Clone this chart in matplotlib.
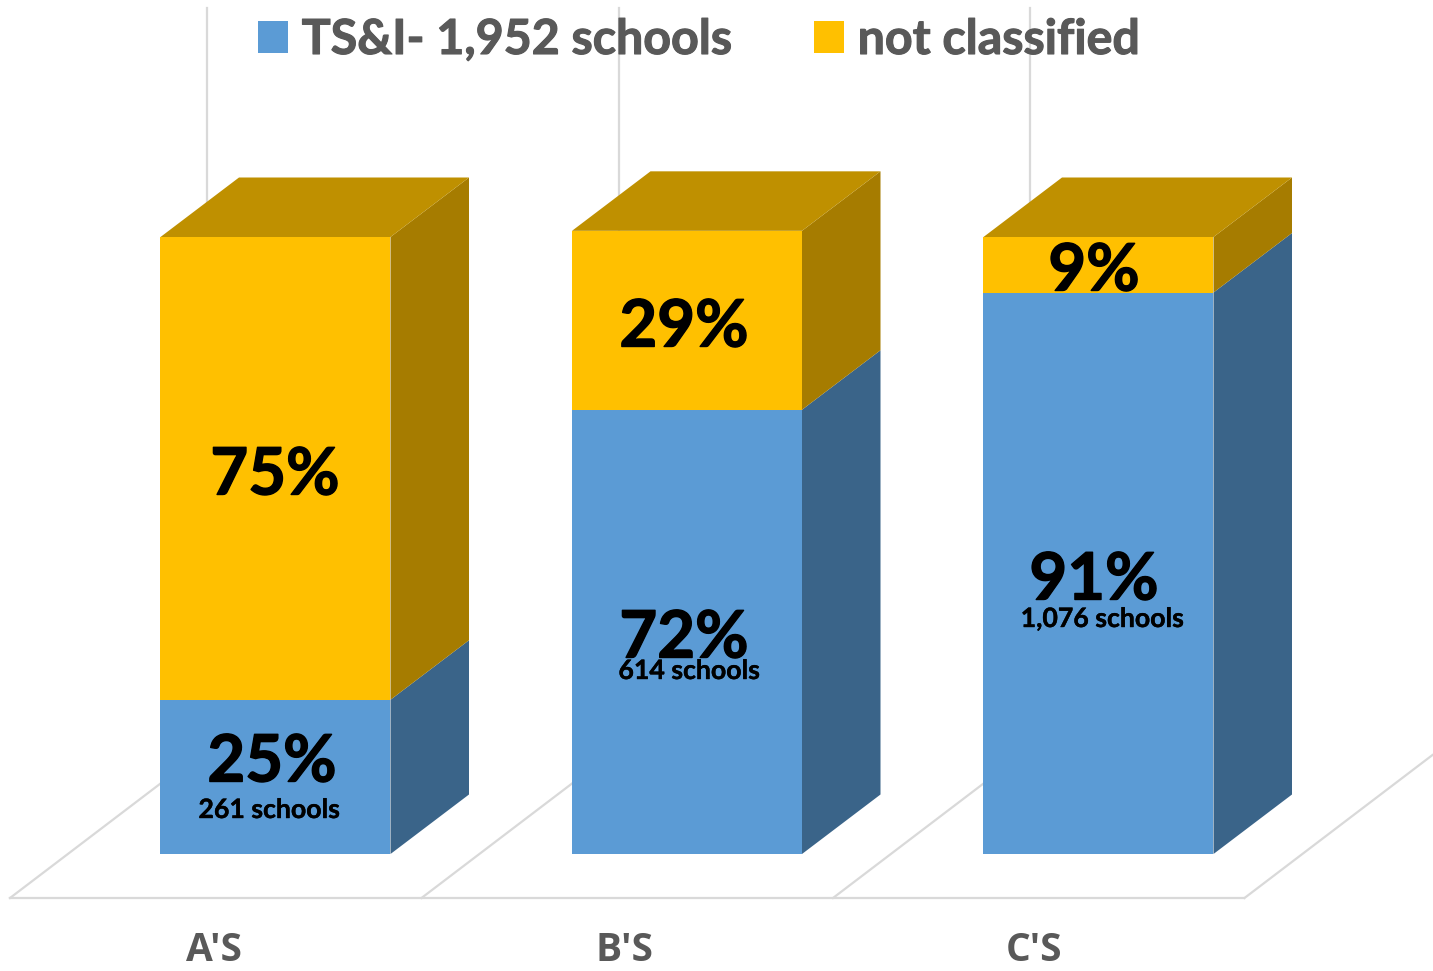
import numpy as np
import matplotlib
matplotlib.use('Agg')
import matplotlib.pyplot as plt
import matplotlib.patheffects as pe
from matplotlib.patches import Polygon, Patch


categories = ["A'S", "B'S", "C'S"]
classified = [25, 72, 91]
not_classified = [75, 29, 9]
school_labels = ['261 schools', '614 schools', '1,076 schools']
legend_labels = ['TS&I- 1,952 schools', 'not classified']

blue = ('#5B9BD5', '#3A6489')
gold = ('#FFC000', '#A67C00', '#BF9000')
grid_col = '#D9D9D9'
text_col = '#595959'

# oblique projection, everything in picture pixels
left0 = 160.5
step = 411.5
bar_w = 230
base_y = 854
unit = 6.17
dep_x, dep_y = 78.5, -59.5

plt.rcParams['font.family'] = ['Lato', 'DejaVu Sans']


def box(ax, x, low, high, colors, top=False):
    y0 = base_y - low*unit
    y1 = base_y - high*unit
    ax.add_patch(Polygon([(x, y0), (x + bar_w, y0), (x + bar_w, y1), (x, y1)],
                         fc=colors[0], ec='none', zorder=3))
    ax.add_patch(Polygon([(x + bar_w, y0), (x + bar_w + dep_x, y0 + dep_y),
                          (x + bar_w + dep_x, y1 + dep_y), (x + bar_w, y1)],
                         fc=colors[1], ec='none', zorder=3))
    if top:
        ax.add_patch(Polygon([(x, y1), (x + bar_w, y1),
                              (x + bar_w + dep_x, y1 + dep_y), (x + dep_x, y1 + dep_y)],
                             fc=colors[2], ec='none', zorder=3))


fig = plt.figure(figsize=(14.33, 9.71), dpi=100)
ax = fig.add_axes([0, 0, 1, 1])
ax.set_xlim(0, 1433)
ax.set_ylim(971, 0)
ax.axis('off')

# floor and back wall lines
floor_y = 898
floor_l = 10
floor_step = 411.5
floor_dx, floor_dy = 188, -143
ax.plot([floor_l, floor_l + 3*floor_step], [floor_y, floor_y], color=grid_col, lw=1.6, zorder=1)
for i in range(4):
    x = floor_l + i*floor_step
    ax.plot([x, x + floor_dx], [floor_y, floor_y + floor_dy], color=grid_col, lw=1.6, zorder=1)
    if i < 3:
        ax.plot([x + 197.5, x + 197.5], [floor_y + floor_dy, 8], color=grid_col, lw=1.6, zorder=1)

for i, cat in enumerate(categories):
    x = left0 + i*step
    a = classified[i]
    b = not_classified[i]
    box(ax, x, 0, a, blue)
    box(ax, x, a, a + b, gold, top=True)
    ax.text(214 + 410*i, 961, cat, fontsize=28, fontweight='bold', color=text_col,
            family='Open Sans', ha='center', va='baseline', zorder=5)

# data labels
low_pos = [(272, 763), (684, 639), (1094, 581)]
small_pos = [(269, 810), (689, 671), (1102, 619)]
high_pos = [(275, 476), (684, 328), (1094, 272)]
heavy = [pe.withStroke(linewidth=1.0, foreground='black')]
for i in range(3):
    ax.text(*low_pos[i], f'{classified[i]}%', fontsize=47, fontweight='bold',
            color='black', ha='center', va='center', zorder=5, path_effects=heavy)
    ax.text(*small_pos[i], school_labels[i], fontsize=19.2, fontweight='bold',
            color='black', ha='center', va='center', zorder=6,
            path_effects=[pe.withStroke(linewidth=0.3, foreground='black')])
    ax.text(*high_pos[i], f'{not_classified[i]}%', fontsize=47, fontweight='bold',
            color='black', ha='center', va='center', zorder=5, path_effects=heavy)

handles = [Patch(fc=blue[0], ec='none', label=legend_labels[0]),
           Patch(fc=gold[0], ec='none', label=legend_labels[1])]
leg = ax.legend(handles=handles, ncol=2, frameon=False, loc='center',
                bbox_to_anchor=(699/1433, 1 - 40/971),
                handlelength=0.62, handleheight=0.62, handletextpad=0.29,
                columnspacing=1.68, labelcolor=text_col,
                prop={'weight': 'bold', 'size': 34.8}, borderpad=0, borderaxespad=0)
for t in leg.get_texts():
    t.set_path_effects([pe.withStroke(linewidth=0.8, foreground=text_col)])

fig.savefig('out.png', dpi=100)
